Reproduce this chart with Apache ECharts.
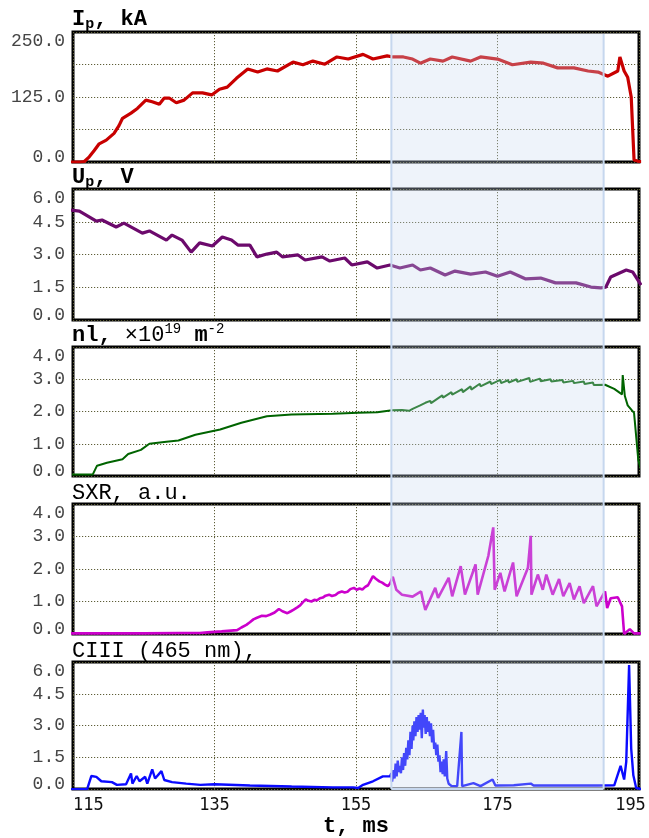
<!DOCTYPE html>
<html><head><meta charset="utf-8">
<script src="https://cdn.jsdelivr.net/npm/echarts@6/dist/echarts.min.js"></script>
<style>html,body{margin:0;padding:0;background:#fff}#c{width:649px;height:838px}</style>
</head><body><div id="c"></div>
<script>
// ---------- data ----------
const xTicks = [115, 135, 155, 175, 195];
const shadeRange = [160, 190];

const ipT = [114.6,116.0,116.6,117.3,118.0,118.7,119.7,120.8,121.5,122.0,123.2,124.1,125.3,126.2,127.2,127.9,128.6,129.6,130.7,131.9,133.3,134.6,135.7,136.8,138.1,139.7,141.1,142.4,143.9,146.1,147.5,148.9,150.6,152.3,153.9,156.0,157.4,159.4,160.2,161.7,163.0,164.1,165.5,167.3,168.6,171.2,172.6,175.0,177.1,179.7,181.5,183.5,185.8,187.8,189.2,190.6,192.0,192.3,192.9,193.4,193.9,194.3,195.0,195.3];
const ipV = [0,0,1,10,22,35,42,55,70,84,94,103,119,116,111,123,123,114,119,133,133,129,140,144,161,179,173,179,175,192,187,194,188,202,198,207,198,204,202,202,198,190,198,194,202,194,202,198,187,192,190,181,181,175,173,165,175,202,175,163,125,4,1,1];

const upT = [114.6,115.9,118.3,119.1,121.1,122.2,124.8,125.8,128.2,129.0,130.4,131.7,132.9,134.7,136.1,137.4,138.3,140.0,141.0,142.4,143.8,144.6,146.8,147.8,150.2,151.3,153.4,154.4,156.6,158.0,159.8,161.2,163.0,164.1,165.5,167.6,169.0,171.2,173.3,175.0,176.8,179.0,181.1,183.2,186.1,188.2,189.6,190.3,191.0,193.2,194.1,195.3];
const upV = [5.04,4.99,4.53,4.58,4.26,4.44,3.98,4.08,3.66,3.89,3.66,3.11,3.53,3.39,3.80,3.66,3.43,3.43,2.89,3.02,3.11,2.89,2.98,2.75,2.89,2.70,2.84,2.52,2.66,2.38,2.52,2.38,2.52,2.29,2.38,2.06,2.24,2.10,2.20,2.00,2.20,1.88,1.92,1.70,1.70,1.51,1.47,1.50,1.97,2.29,2.20,1.60];

const nlT = [114.6,117.8,118.4,119.8,122.0,122.8,124.6,125.8,128.2,129.9,132.3,135.8,138.8,142.4,145.9,151.7,155.3,158.0,160.1,161.5,162.5,163.0,164.0,164.8,165.5,165.6,167.2,167.3,168.5,168.6,170.0,170.1,171.2,171.3,172.5,172.6,174.0,174.1,175.4,175.5,176.5,176.6,177.7,177.8,179.5,179.6,181.0,181.1,182.5,182.6,184.2,184.3,185.7,185.8,187.2,187.3,188.5,188.6,190.2,191.5,192.6,192.7,193.0,193.4,194.3,194.9,195.3];
const nlV = [0.05,0.05,0.32,0.41,0.52,0.68,0.81,1.00,1.06,1.10,1.28,1.44,1.65,1.85,1.91,1.93,1.96,1.98,2.04,2.05,2.02,2.08,2.18,2.27,2.33,2.26,2.50,2.43,2.60,2.52,2.69,2.60,2.78,2.68,2.86,2.78,2.93,2.85,2.98,2.88,2.97,2.90,3.00,2.92,3.04,2.92,3.02,2.94,3.00,2.93,2.98,2.90,2.95,2.88,2.93,2.85,2.90,2.82,2.83,2.70,2.53,3.13,2.48,2.19,1.96,0.50,0.19];

const sxrT = [114.6,120.0,125.0,130.0,132.9,134.0,136.0,138.2,138.8,139.5,140.0,140.5,141.0,141.7,142.3,142.9,143.5,144.1,144.6,145.3,145.8,146.2,146.7,147.1,147.5,147.9,148.3,148.7,149.1,149.5,149.9,150.3,150.7,151.2,151.6,152.1,152.5,153.0,153.4,153.8,154.2,154.7,155.1,155.5,155.9,156.3,156.7,157.0,157.4,157.8,158.3,158.7,159.1,159.5,159.8,160.2,160.7,161.5,163.0,164.2,164.5,164.8,166.2,166.6,168.1,168.6,169.8,170.4,171.9,172.2,173.7,174.4,174.6,175.4,176.0,177.2,177.7,179.3,179.7,179.8,180.7,181.4,181.9,182.8,183.7,184.3,185.2,185.8,186.6,187.2,188.5,189.0,190.2,190.5,191.0,192.0,192.6,192.9,193.7,194.3,195.3];
const sxrV = [0.02,0.02,0.02,0.03,0.03,0.05,0.08,0.12,0.20,0.28,0.36,0.45,0.50,0.56,0.55,0.60,0.66,0.77,0.70,0.64,0.70,0.75,0.82,0.88,0.98,1.06,1.02,1.00,1.05,1.04,1.10,1.12,1.18,1.21,1.17,1.20,1.27,1.31,1.28,1.30,1.38,1.42,1.36,1.40,1.37,1.45,1.50,1.62,1.78,1.70,1.62,1.58,1.52,1.47,1.55,1.76,1.36,1.21,1.15,1.31,1.00,0.74,1.42,1.11,1.73,1.16,2.09,1.21,2.14,1.21,2.40,3.28,1.36,1.88,1.31,2.20,1.16,2.04,3.02,1.21,1.83,1.36,1.83,1.21,1.69,1.16,1.57,1.06,1.47,0.95,1.47,0.85,1.31,0.80,1.10,1.13,0.85,0.00,0.15,0.02,0.02];

const ciiiT = [114.6,117.0,117.6,118.3,119.0,120.5,121.2,122.5,123.2,123.4,124.0,124.4,125.2,125.5,126.2,126.6,127.5,127.9,129.0,131.0,133.0,135.0,140.0,145.9,151.7,154.6,155.3,156.0,157.4,158.8,159.8,
  160.0,160.1,160.3,160.45,160.6,160.75,160.9,161.05,161.2,161.35,161.5,161.65,161.8,161.95,162.1,162.25,162.4,162.55,162.7,162.85,163.0,163.1,163.25,163.4,163.55,163.7,163.85,164.0,164.15,164.3,164.45,164.55,164.7,164.85,165.0,165.15,165.3,165.45,165.6,165.75,165.9,166.05,166.2,166.35,166.5,166.65,166.8,166.95,167.1,167.25,167.4,167.55,167.75,167.9,
  168.1,168.5,169.3,169.9,170.0,171.6,172.6,174.3,174.7,177.3,179.7,180.1,184.4,189.2,191.5,192.4,192.9,193.2,193.6,193.9,194.2,194.6,195.3];
const ciiiV = [0.00,0.00,0.62,0.58,0.37,0.33,0.20,0.23,0.74,0.26,0.62,0.37,0.58,0.26,0.93,0.50,0.85,0.43,0.33,0.26,0.20,0.23,0.17,0.12,0.08,0.08,0.05,0.20,0.37,0.60,0.60,
  0.75,0.35,0.90,0.50,1.20,0.60,1.35,0.80,1.10,0.75,1.50,0.90,1.70,1.10,1.95,1.40,2.30,1.60,2.70,1.90,3.00,2.30,3.20,2.50,3.40,2.70,3.50,2.80,3.60,2.40,3.75,2.90,3.50,2.60,3.40,2.70,3.20,2.50,3.10,2.20,2.80,1.90,2.20,1.60,2.10,1.30,1.60,0.80,1.30,0.70,1.40,0.60,1.80,0.50,
  0.25,0.15,0.14,2.70,0.14,0.28,0.14,0.45,0.17,0.18,0.26,0.17,0.17,0.17,0.18,1.10,0.45,1.30,5.86,1.90,0.65,0.05,0.00];

// ---------- layout / style ----------
const mono = "'Liberation Mono', 'Courier New', monospace";
const layout = [
  {top: 32, height: 130}, {top: 189, height: 131}, {top: 347, height: 129},
  {top: 504, height: 130}, {top: 662, height: 130}
];
const seriesDefs = [
  {t: ipT, v: ipV, color: '#c80000', width: 3.2, min: 0, max: 250, interval: 62.5, step: 125},
  {t: upT, v: upV, color: '#6c0a6c', width: 3.2, min: 0, max: 6, interval: 1.5, step: 1.5},
  {t: nlT, v: nlV, color: '#006400', width: 2, min: 0, max: 4, interval: 1, step: 1},
  {t: sxrT, v: sxrV, color: '#cc00cc', width: 2.6, min: 0, max: 4, interval: 1, step: 1},
  {t: ciiiT, v: ciiiV, color: '#0a0aff', width: 2.4, min: 0, max: 6, interval: 1.5, step: 1.5}
];
const gridLine = {show: true, lineStyle: {color: '#5e5e38', type: [1.2, 1.8], width: 1}};

const grids = [], xAxes = [], yAxes = [], series = [];
seriesDefs.forEach((d, i) => {
  grids.push({left: 73, right: 10, top: layout[i].top, height: layout[i].height,
    show: true, borderColor: '#000', borderWidth: 3, backgroundColor: 'transparent'});
  const last = i === seriesDefs.length - 1;
  xAxes.push({type: 'value', gridIndex: i, min: xTicks[0], max: xTicks[xTicks.length - 1], interval: 20,
    axisLine: {show: false}, axisTick: {show: false}, splitLine: gridLine,
    axisLabel: {show: last, margin: 8, fontFamily: "'DejaVu Sans Mono', monospace", fontSize: 17, color: '#111',
      alignMinLabel: 'left',
      formatter: v => (v === 195 ? '{r|195}' : String(v)),
      rich: {r: {fontFamily: "'DejaVu Sans Mono', monospace", fontSize: 17, color: '#111', padding: [0, 17, 0, 0]}}},
    name: last ? 't, ms' : '', nameLocation: 'middle', nameGap: 24,
    nameTextStyle: {fontFamily: mono, fontWeight: 'bold', fontSize: 22, color: '#000'}
  });
  yAxes.push({type: 'value', gridIndex: i, min: d.min, max: d.max, interval: d.interval,
    axisLine: {show: false}, axisTick: {show: false}, splitLine: gridLine,
    axisLabel: {margin: 8, fontFamily: mono, fontSize: 18, color: '#454545',
      formatter: v => {
        const r = v / d.step;
        if (Math.abs(r - Math.round(r)) > 1e-6) return '';
        return v === d.min ? '{m|' + v.toFixed(1) + '}' : v.toFixed(1);
      },
      rich: {m: {fontFamily: mono, fontSize: 18, color: '#454545', padding: [0, 0, 9, 0]}},
      verticalAlignMaxLabel: 'top'}});
  series.push({type: 'line', xAxisIndex: i, yAxisIndex: i, showSymbol: false, symbol: 'none',
    data: d.t.map((t, k) => [t, d.v[k]]), lineStyle: {color: d.color, width: d.width}, z: 3});
});

const tb = {fontFamily: mono, fontWeight: 'bold', fontSize: 22, color: '#000'};
const tn = {fontFamily: mono, fontWeight: 'normal', fontSize: 22, color: '#000'};
const sub = Object.assign({}, tb, {fontSize: 15, verticalAlign: 'bottom', lineHeight: 15});
const sup = Object.assign({}, tn, {fontSize: 14, verticalAlign: 'top', lineHeight: 14});
const titles = [
  {top: 6, text: '{b|I}{s|p}{b|, kA}'},
  {top: 164, text: '{b|U}{s|p}{b|, V}'},
  {top: 322, text: '{b|nl,}{n| ×10}{u|19}{b| m}{u|-2}'},
  {top: 480, text: '{n|SXR, a.u.}'},
  {top: 638, text: '{n|CIII (465 nm),}'}
].map(o => ({left: 72, top: o.top, text: o.text, padding: 0,
  textStyle: {rich: {b: Object.assign({lineHeight: 26}, tb), n: Object.assign({lineHeight: 26}, tn), s: sub, u: sup}}}));

const chart = echarts.init(document.getElementById('c'), null, {renderer: 'canvas'});
chart.setOption({animation: false, backgroundColor: '#fff', title: titles, grid: grids, xAxis: xAxes, yAxis: yAxes, series: series});

// shaded interval overlay spanning all panels
const x0 = chart.convertToPixel({xAxisIndex: 0}, shadeRange[0]);
const x1 = chart.convertToPixel({xAxisIndex: 0}, shadeRange[1]);
const yTop = chart.convertToPixel({yAxisIndex: 0}, seriesDefs[0].max) + 2;
const yBot = chart.convertToPixel({yAxisIndex: 4}, seriesDefs[4].min);
chart.setOption({graphic: [
  {type: 'rect', z: 100, silent: true, shape: {x: x0, y: yTop, width: x1 - x0, height: yBot - yTop},
    style: {fill: 'rgba(200,216,240,0.3)'}},
  {type: 'line', z: 101, silent: true, shape: {x1: x0, y1: yTop, x2: x0, y2: yBot}, style: {stroke: '#c6d7ee', lineWidth: 2}},
  {type: 'line', z: 101, silent: true, shape: {x1: x1, y1: yTop, x2: x1, y2: yBot}, style: {stroke: '#c6d7ee', lineWidth: 2}},
  {type: 'line', z: 101, silent: true, shape: {x1: x0, y1: yBot, x2: x1, y2: yBot}, style: {stroke: '#c6d7ee', lineWidth: 2}}
]});
</script></body></html>
